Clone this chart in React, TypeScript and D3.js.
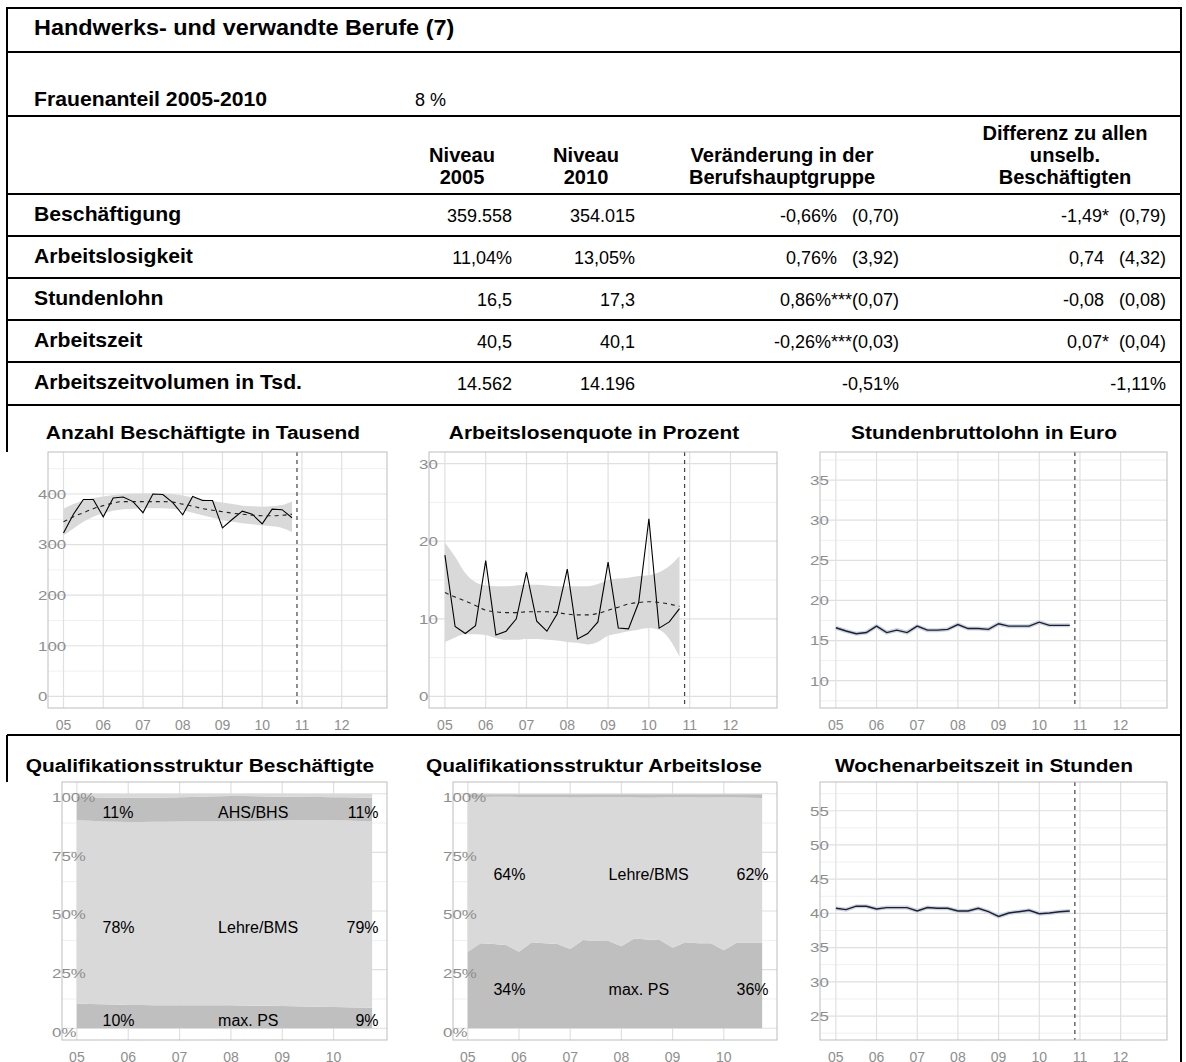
import React from 'react';
import * as d3 from 'd3';

const FONT = '"Liberation Sans", Arial, Helvetica, sans-serif';

// ---- table ----
const pageTitle = 'Handwerks- und verwandte Berufe (7)';
const shareLabel = 'Frauenanteil 2005-2010';
const shareValue = '8 %';
const headNiveau05 = ['Niveau', '2005'];
const headNiveau10 = ['Niveau', '2010'];
const headChange = ['Veränderung in der', 'Berufshauptgruppe'];
const headDiff = ['Differenz zu allen', 'unselb.', 'Beschäftigten'];
const rowLabels = ['Beschäftigung', 'Arbeitslosigkeit', 'Stundenlohn', 'Arbeitszeit', 'Arbeitszeitvolumen in Tsd.'];
const level2005 = ['359.558', '11,04%', '16,5', '40,5', '14.562'];
const level2010 = ['354.015', '13,05%', '17,3', '40,1', '14.196'];
const changeVal = ['-0,66%', '0,76%', '0,86%', '-0,26%', '-0,51%'];
const changeStars = ['', '', '***', '***', ''];
const changeSE = ['(0,70)', '(3,92)', '(0,07)', '(0,03)', ''];
const diffVal = ['-1,49', '0,74', '-0,08', '0,07', '-1,11%'];
const diffStars = ['*', '', '', '*', ''];
const diffSE = ['(0,79)', '(4,32)', '(0,08)', '(0,04)', ''];

// ---- time series (quarterly 2005 Q1 .. 2010 Q4) ----
const quarterTimes = [
  2005, 2005.25, 2005.5, 2005.75, 2006, 2006.25, 2006.5, 2006.75,
  2007, 2007.25, 2007.5, 2007.75, 2008, 2008.25, 2008.5, 2008.75,
  2009, 2009.25, 2009.5, 2009.75, 2010, 2010.25, 2010.5, 2010.75,
];
const yearTicks = [2005, 2006, 2007, 2008, 2009, 2010, 2011, 2012];
const yearLabels = ['05', '06', '07', '08', '09', '10', '11', '12'];
const forecastStart = 2010.875;

const employment = [323, 360, 389, 389, 355, 392, 394, 385, 363, 400, 399, 383, 359, 395, 387, 387, 333, 350, 366, 360, 341, 370, 369, 353];
const employmentTrend = [345, 355, 363, 371, 377, 382, 385, 385, 385, 385, 385, 384, 380, 376, 371, 368, 365, 362, 360, 358, 357, 357, 358, 360];
const employmentUpper = [371, 380, 387, 392, 395, 398, 400, 401, 401, 401, 401, 400, 397, 393, 390, 386, 383, 380, 377, 376, 375, 376, 378, 385];
const employmentLower = [318, 332, 345, 355, 362, 367, 370, 371, 372, 372, 372, 371, 368, 363, 358, 353, 348, 345, 342, 340, 338, 336, 333, 325];

const unemployment = [18.2, 9.0, 8.1, 9.1, 17.5, 7.9, 8.4, 10.0, 16.0, 9.7, 8.4, 10.6, 16.4, 7.4, 8.1, 9.6, 17.3, 8.8, 8.7, 12.1, 22.9, 8.8, 9.6, 11.3];
const unemploymentTrend = [13.4, 12.8, 12.3, 11.7, 11.1, 10.9, 10.8, 10.8, 10.9, 10.9, 10.9, 10.8, 10.6, 10.5, 10.5, 10.7, 11.1, 11.5, 11.9, 12.1, 12.2, 12.1, 11.9, 11.6];
const unemploymentUpper = [19.8, 18.0, 15.9, 14.7, 14.3, 14.2, 14.2, 14.3, 14.4, 14.4, 14.3, 14.2, 14.2, 14.2, 14.2, 14.5, 15.0, 15.2, 15.3, 15.5, 15.6, 16.0, 16.8, 18.1];
const unemploymentLower = [7.0, 7.6, 8.0, 8.0, 7.9, 7.5, 7.3, 7.3, 7.4, 7.4, 7.3, 7.2, 7.0, 6.9, 6.7, 7.0, 7.8, 8.1, 8.4, 8.6, 8.8, 8.6, 7.4, 5.1];

const hourlyWage = [16.6, 16.2, 15.85, 16.0, 16.8, 16.0, 16.3, 16.0, 16.8, 16.3, 16.3, 16.4, 17.0, 16.5, 16.5, 16.4, 17.1, 16.8, 16.8, 16.8, 17.3, 16.9, 16.9, 16.9];
const weeklyHours = [40.75, 40.55, 41.05, 41.05, 40.65, 40.85, 40.85, 40.85, 40.35, 40.85, 40.75, 40.75, 40.35, 40.35, 40.75, 40.25, 39.55, 40.05, 40.25, 40.45, 39.95, 40.05, 40.25, 40.35];

// qualification shares, employed
const empMaxPS = [0.106, 0.104, 0.102, 0.101, 0.099, 0.099, 0.098, 0.098, 0.098, 0.098, 0.098, 0.098, 0.098, 0.097, 0.096, 0.096, 0.095, 0.094, 0.093, 0.092, 0.091, 0.090, 0.089, 0.088];
const empLehre = [0.781, 0.781, 0.780, 0.779, 0.780, 0.780, 0.782, 0.783, 0.784, 0.784, 0.784, 0.784, 0.784, 0.786, 0.788, 0.789, 0.791, 0.793, 0.794, 0.795, 0.796, 0.796, 0.795, 0.794];
const empAhs = [0.099, 0.100, 0.102, 0.103, 0.104, 0.104, 0.103, 0.103, 0.103, 0.104, 0.106, 0.107, 0.108, 0.107, 0.105, 0.103, 0.101, 0.100, 0.099, 0.099, 0.098, 0.099, 0.100, 0.101];
const empUni = [0.014, 0.015, 0.016, 0.017, 0.017, 0.017, 0.017, 0.016, 0.015, 0.014, 0.012, 0.011, 0.010, 0.010, 0.011, 0.012, 0.013, 0.013, 0.014, 0.014, 0.015, 0.015, 0.016, 0.017];

// qualification shares, unemployed
const unMaxPS = [0.326, 0.362, 0.359, 0.355, 0.326, 0.367, 0.362, 0.359, 0.338, 0.376, 0.372, 0.372, 0.350, 0.383, 0.379, 0.376, 0.343, 0.367, 0.362, 0.362, 0.333, 0.365, 0.365, 0.365];
const unLehre = [0.660, 0.624, 0.628, 0.632, 0.660, 0.619, 0.623, 0.626, 0.646, 0.608, 0.613, 0.613, 0.636, 0.601, 0.604, 0.608, 0.642, 0.618, 0.622, 0.622, 0.652, 0.619, 0.618, 0.617];
const unAhs = [0.012, 0.012, 0.011, 0.011, 0.012, 0.012, 0.013, 0.013, 0.014, 0.014, 0.013, 0.013, 0.012, 0.014, 0.015, 0.014, 0.013, 0.013, 0.014, 0.014, 0.013, 0.014, 0.015, 0.016];
const unUni = [0.002, 0.002, 0.002, 0.002, 0.002, 0.002, 0.002, 0.002, 0.002, 0.002, 0.002, 0.002, 0.002, 0.002, 0.002, 0.002, 0.002, 0.002, 0.002, 0.002, 0.002, 0.002, 0.002, 0.002];

const qualKeys = ['maxPS', 'lehre', 'ahs', 'uni'];
const qualFills = ['#bfbfbf', '#d9d9d9', '#bfbfbf', '#d9d9d9'];
const labelTimes = [2005.5, 2007.75, 2010.875];
const empLabelRows = [
  { at: 0.922, texts: ['11%', 'AHS/BHS', '11%'] },
  { at: 0.428, texts: ['78%', 'Lehre/BMS', '79%'] },
  { at: 0.035, texts: ['10%', 'max. PS', '9%'] },
];
const unLabelRows = [
  { at: 0.658, texts: ['64%', 'Lehre/BMS', '62%'] },
  { at: 0.164, texts: ['34%', 'max. PS', '36%'] },
];

const AXIS_GREY = '#8e8e8e';

// text stretched horizontally around its anchor point
function SText({ x, y, sx = 1, size, bold = false, anchor = 'start', children, pre = false }: any) {
  return (
    <text transform={`translate(${x},${y}) scale(${sx},1)`} textAnchor={anchor} fontFamily={FONT}
      fontWeight={bold ? 'bold' : 'normal'} fontSize={size} fill="#000" style={pre ? { whiteSpace: 'pre' } : undefined}>
      {children}
    </text>
  );
}

function Frame({ x, y, xTicks, xLabels, yTicks, yMinor, yFmt, yDy = 0, children, title, titleX, titleGap = 13 }: any) {
  const [x0, x1] = x.range();
  const [yb, yt] = y.range();
  return (
    <g>
      <SText x={titleX} y={yt - titleGap} sx={1.1} size={19} bold anchor="middle">{title}</SText>
      <rect x={x0} y={yt} width={x1 - x0} height={yb - yt} fill="#fff" />
      {yMinor.map((v: number) => (
        <line key={'m' + v} x1={x0} x2={x1} y1={y(v)} y2={y(v)} stroke="#f0f0f0" strokeWidth={1} />
      ))}
      {yTicks.map((v: number) => (
        <line key={'h' + v} x1={x0} x2={x1} y1={y(v)} y2={y(v)} stroke="#e0e0e0" strokeWidth={1.2} />
      ))}
      {xTicks.map((v: number) => (
        <line key={'v' + v} x1={x(v)} x2={x(v)} y1={yt} y2={yb} stroke="#e0e0e0" strokeWidth={1.2} />
      ))}
      {children}
      <rect x={x0} y={yt} width={x1 - x0} height={yb - yt} fill="none" stroke="#bdbdbd" strokeWidth={1} />
      {xTicks.map((v: number, i: number) => (
        <text key={'xl' + v} x={x(v)} y={yb + 22} textAnchor="middle" fontFamily={FONT} fontSize={14} fill={AXIS_GREY}>
          {xLabels[i]}
        </text>
      ))}
      {yTicks.map((v: number) => (
        <text key={'yl' + v} transform={`translate(${x0 - 10},${y(v) + yDy}) scale(1.25,1)`} dy="0.36em"
          fontFamily={FONT} fontSize={13.5} fill={AXIS_GREY}>
          {yFmt(v)}
        </text>
      ))}
    </g>
  );
}

function ForecastLine({ x, y }: any) {
  const [yb, yt] = y.range();
  return <line x1={x(forecastStart)} x2={x(forecastStart)} y1={yt} y2={yb} stroke="#444" strokeWidth={1.2} strokeDasharray="4,4" />;
}

function SmoothPanel({ x, y, values, trend, upper, lower }: any) {
  const ribbon = d3.area<number>().x((_, i) => x(quarterTimes[i])).y0((_, i) => y(lower[i])).y1((_, i) => y(upper[i])).curve(d3.curveMonotoneX);
  const line = d3.line<number>().x((_, i) => x(quarterTimes[i])).y((d) => y(d));
  const smooth = d3.line<number>().x((_, i) => x(quarterTimes[i])).y((d) => y(d)).curve(d3.curveMonotoneX);
  return (
    <g>
      <path d={ribbon(upper) || ''} fill="#d9d9d9" />
      <path d={line(values) || ''} fill="none" stroke="#000" strokeWidth={1.1} />
      <path d={smooth(trend) || ''} fill="none" stroke="#222" strokeWidth={1.1} strokeDasharray="4,4" />
    </g>
  );
}

function NavyLine({ x, y, values }: any) {
  const line = d3.line<number>().x((_, i) => x(quarterTimes[i])).y((d) => y(d));
  const d = line(values) || '';
  return (
    <g>
      <path d={d} fill="none" stroke="#cfd3da" strokeWidth={4} />
      <path d={d} fill="none" stroke="#17213f" strokeWidth={1.4} />
    </g>
  );
}

function StackPanel({ x, y, series, labelRows }: any) {
  const rows = quarterTimes.map((t, i) => {
    const r: any = { t };
    qualKeys.forEach((k, j) => (r[k] = series[j][i]));
    return r;
  });
  const stacked = d3.stack<any>().keys(qualKeys)(rows);
  const area = d3.area<any>().x((d) => x(d.data.t)).y0((d) => y(d[0])).y1((d) => y(d[1]));
  const anchors = ['start', 'start', 'end'];
  return (
    <g>
      {stacked.map((s, j) => (
        <path key={qualKeys[j]} d={area(s) || ''} fill={qualFills[j]} />
      ))}
      {labelRows.map((row: any, r: number) =>
        row.texts.map((txt: string, k: number) => (
          <text key={r + '-' + k} x={x(labelTimes[k])} y={y(row.at)} dy="0.35em" textAnchor={anchors[k]}
            fontFamily={FONT} fontSize={16} fill="#000">{txt}</text>
        ))
      )}
    </g>
  );
}

export default function App() {
  const W = 1186;
  const H = 1062;
  const L = 7;
  const R = 1181;
  const hLines = [52, 116, 194, 236, 278, 320, 362, 405, 735];
  const rowTops = [194, 236, 278, 320, 362];

  const xTop = d3.scaleLinear().domain([2004.61, 2013.14]);
  const xEmp = xTop.copy().range([48, 387]);
  const xUne = xTop.copy().range([429, 777]);
  const xWage = xTop.copy().range([820, 1167]);
  const xHours = xTop.copy().range([820, 1167]);
  const xQ1 = d3.scaleLinear().domain([2004.71, 2011.04]).range([62, 387]);
  const xQ2 = d3.scaleLinear().domain([2004.71, 2011.04]).range([453, 777]);

  const yEmp = d3.scaleLinear().domain([-23, 483]).range([708, 452]);
  const yUne = d3.scaleLinear().domain([-1.5, 31.5]).range([708, 452]);
  const yWage = d3.scaleLinear().domain([6.6, 38.5]).range([708, 452]);
  const yHours = d3.scaleLinear().domain([21.5, 59.2]).range([1040, 782]);
  const yQ = d3.scaleLinear().domain([-0.05, 1.05]).range([1040, 782]);

  const num = (v: number) => String(v);
  const pct = (v: number) => `${Math.round(v * 100)}%`;

  const cell = (val: string, stars: string, se: string) => (se ? val + stars.padEnd(3, ' ') + se : val + stars);

  return (
    <svg width={W} height={H} viewBox={`0 0 ${W} ${H}`} style={{ position: 'absolute', left: 0, top: 0, background: '#fff' }}>
      <rect width={W} height={H} fill="#fff" />
      {/* frame */}
      <line x1={L} x2={R} y1={8} y2={8} stroke="#000" strokeWidth={2} />
      {hLines.map((yy) => (
        <line key={yy} x1={L} x2={R} y1={yy} y2={yy} stroke="#000" strokeWidth={2} />
      ))}
      <line x1={L} x2={L} y1={7} y2={452} stroke="#000" strokeWidth={2} />
      <line x1={L} x2={L} y1={735} y2={782} stroke="#000" strokeWidth={2} />
      <line x1={R} x2={R} y1={7} y2={H} stroke="#000" strokeWidth={2} />

      {/* table text */}
      <SText x={34} y={35} sx={1.09} size={21.5} bold>{pageTitle}</SText>
      <SText x={34} y={106} sx={1.06} size={20} bold>{shareLabel}</SText>
      <SText x={415} y={106} size={18}>{shareValue}</SText>
      {[
        { cx: 462, lines: headNiveau05 },
        { cx: 586, lines: headNiveau10 },
        { cx: 782, lines: headChange },
        { cx: 1065, lines: headDiff },
      ].map((h) =>
        h.lines.map((t, i) => (
          <SText key={h.cx + t} x={h.cx} y={184 - (h.lines.length - 1 - i) * 22} sx={1.03} size={19.5} bold anchor="middle">
            {t}
          </SText>
        ))
      )}
      {rowLabels.map((lab, i) => (
        <g key={lab}>
          <SText x={34} y={rowTops[i] + 27} sx={1.06} size={20} bold>{lab}</SText>
          <SText x={512} y={rowTops[i] + 28} size={18} anchor="end">{level2005[i]}</SText>
          <SText x={635} y={rowTops[i] + 28} size={18} anchor="end">{level2010[i]}</SText>
          <SText x={899} y={rowTops[i] + 28} size={18} anchor="end" pre>
            {cell(changeVal[i], changeStars[i], changeSE[i])}
          </SText>
          <SText x={1166} y={rowTops[i] + 28} size={18} anchor="end" pre>
            {cell(diffVal[i], diffStars[i], diffSE[i])}
          </SText>
        </g>
      ))}

      <Frame title="Anzahl Beschäftigte in Tausend" titleX={203} x={xEmp} y={yEmp} xTicks={yearTicks} xLabels={yearLabels}
        yTicks={[0, 100, 200, 300, 400]} yMinor={[50, 150, 250, 350, 450]} yFmt={num}>
        <SmoothPanel x={xEmp} y={yEmp} values={employment} trend={employmentTrend} upper={employmentUpper} lower={employmentLower} />
        <ForecastLine x={xEmp} y={yEmp} />
      </Frame>

      <Frame title="Arbeitslosenquote in Prozent" titleX={594} x={xUne} y={yUne} xTicks={yearTicks} xLabels={yearLabels}
        yTicks={[0, 10, 20, 30]} yMinor={[5, 15, 25]} yFmt={num}>
        <SmoothPanel x={xUne} y={yUne} values={unemployment} trend={unemploymentTrend} upper={unemploymentUpper} lower={unemploymentLower} />
        <ForecastLine x={xUne} y={yUne} />
      </Frame>

      <Frame title="Stundenbruttolohn in Euro" titleX={984} x={xWage} y={yWage} xTicks={yearTicks} xLabels={yearLabels}
        yTicks={[10, 15, 20, 25, 30, 35]} yMinor={[7.5, 12.5, 17.5, 22.5, 27.5, 32.5, 37.5]} yFmt={num}>
        <NavyLine x={xWage} y={yWage} values={hourlyWage} />
        <ForecastLine x={xWage} y={yWage} />
      </Frame>

      <Frame title="Qualifikationsstruktur Beschäftigte" titleX={200} titleGap={10} x={xQ1} y={yQ} xTicks={yearTicks.slice(0, 6)} xLabels={yearLabels}
        yTicks={[0, 0.25, 0.5, 0.75, 1]} yMinor={[0.125, 0.375, 0.625, 0.875]} yFmt={pct} yDy={3.5}>
        <StackPanel x={xQ1} y={yQ} series={[empMaxPS, empLehre, empAhs, empUni]} labelRows={empLabelRows} />
      </Frame>

      <Frame title="Qualifikationsstruktur Arbeitslose" titleX={594} titleGap={10} x={xQ2} y={yQ} xTicks={yearTicks.slice(0, 6)} xLabels={yearLabels}
        yTicks={[0, 0.25, 0.5, 0.75, 1]} yMinor={[0.125, 0.375, 0.625, 0.875]} yFmt={pct} yDy={3.5}>
        <StackPanel x={xQ2} y={yQ} series={[unMaxPS, unLehre, unAhs, unUni]} labelRows={unLabelRows} />
      </Frame>

      <Frame title="Wochenarbeitszeit in Stunden" titleX={984} titleGap={10} x={xHours} y={yHours} xTicks={yearTicks} xLabels={yearLabels}
        yTicks={[25, 30, 35, 40, 45, 50, 55]} yMinor={[22.5, 27.5, 32.5, 37.5, 42.5, 47.5, 52.5, 57.5]} yFmt={num}>
        <NavyLine x={xHours} y={yHours} values={weeklyHours} />
        <ForecastLine x={xHours} y={yHours} />
      </Frame>
    </svg>
  );
}
